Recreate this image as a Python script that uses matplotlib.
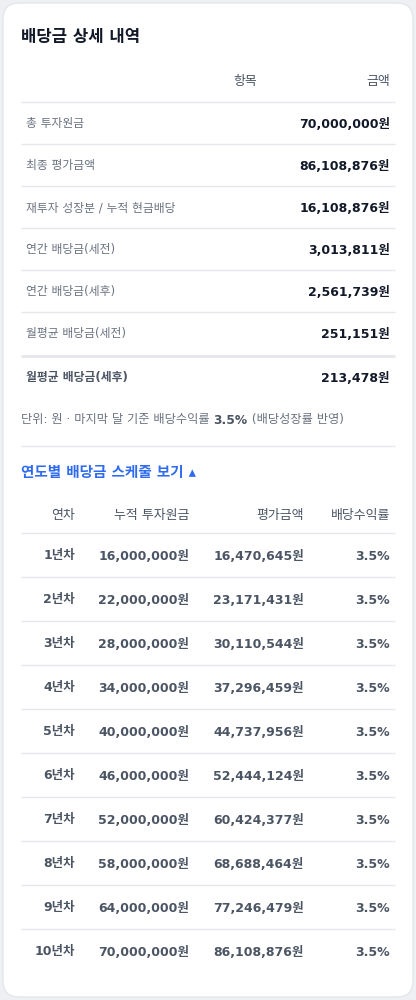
import matplotlib
matplotlib.use("Agg")
import matplotlib.pyplot as plt
from matplotlib.patches import FancyBboxPatch

plt.rcParams['font.family'] = ['DejaVu Sans', 'Noto Sans CJK KR']

title = "배당금 상세 내역"
summary_header = ["항목", "금액"]
summary_labels = ["총 투자원금", "최종 평가금액", "재투자 성장분 / 누적 현금배당",
                  "연간 배당금(세전)", "연간 배당금(세후)", "월평균 배당금(세전)", "월평균 배당금(세후)"]
summary_values = [70000000, 86108876, 16108876, 3013811, 2561739, 251151, 213478]
note_parts = [("단위: 원 · 마지막 달 기준 배당수익률 ", "normal"), ("3.5%", "bold"), (" (배당성장률 반영)", "normal")]
link_text = "연도별 배당금 스케줄 보기 ▴"
sched_header = ["연차", "누적 투자원금", "평가금액", "배당수익률"]
years = ["1년차", "2년차", "3년차", "4년차", "5년차", "6년차", "7년차", "8년차", "9년차", "10년차"]
principal = [16000000, 22000000, 28000000, 34000000, 40000000, 46000000, 52000000, 58000000, 64000000, 70000000]
value = [16470645, 23171431, 30110544, 37296459, 44737956, 52444124, 60424377, 68688464, 77246479, 86108876]
yield_pct = [3.5] * 10

fig = plt.figure(figsize=(4.16, 10), dpi=100, facecolor="#eef0f3")
ax = fig.add_axes([0, 0, 1, 1])
ax.set_xlim(0, 416); ax.set_ylim(1000, 0); ax.axis('off')
ax.add_patch(FancyBboxPatch((3, 3), 410, 994, boxstyle="round,pad=0,rounding_size=16",
                            fc="white", ec="#e3e6ea", lw=1))

LINE = "#e5e7eb"
def hline(y, lw=1.0, c=LINE):
    ax.plot([21, 395], [y, y], color=c, lw=lw, solid_capstyle='butt')

ax.text(21, 37, title, fontsize=12, fontweight='bold', color="#111827", va='center')
ax.text(257, 81, summary_header[0], fontsize=9.3, color="#4b5563", ha='right', va='center')
ax.text(390, 81, summary_header[1], fontsize=9.3, color="#4b5563", ha='right', va='center')
hline(102)
row_y = [123, 165, 207, 249, 291, 333, 377]
for i, (lab, v) in enumerate(zip(summary_labels, summary_values)):
    last = i == len(summary_labels) - 1
    ax.text(26, row_y[i] + 1, lab, fontsize=8.5, color="#4b5563" if last else "#6b7280",
            fontweight='bold' if last else 'normal', va='center')
    ax.text(390, row_y[i] + 1, f"{v:,}원", fontsize=9, fontweight='bold', color="#111827", ha='right', va='center')
    if i < len(summary_labels) - 2:
        hline(row_y[i] + 21)
    elif i == len(summary_labels) - 2:
        hline(356, lw=2.0)

fig.canvas.draw()
r = fig.canvas.get_renderer()
x = 21
for txt, w in note_parts:
    t = ax.text(x, 420, txt, fontsize=8.8, fontweight=w, color="#4b5563" if w == 'bold' else "#6b7280", va='center')
    bb = t.get_window_extent(renderer=r)
    x += bb.width * 416 / fig.bbox.width
hline(446)
ax.text(21, 473, link_text, fontsize=10.5, fontweight='bold', color="#2f6bf0", va='center')

hx = [75, 189, 304, 390]
for h, xx in zip(sched_header, hx):
    ax.text(xx, 515, h, fontsize=9.3, color="#4b5563", ha='right', va='center')
hline(533)
for i in range(len(years)):
    y = 556 + 44 * i
    cells = [years[i], f"{principal[i]:,}원", f"{value[i]:,}원", f"{yield_pct[i]}%"]
    for c, xx in zip(cells, hx):
        ax.text(xx, y, c, fontsize=9, fontweight='bold', color="#4b5563", ha='right', va='center')
    if i < len(years) - 1:
        hline(y + 21)

fig.savefig("out.png", dpi=100, facecolor=fig.get_facecolor())
